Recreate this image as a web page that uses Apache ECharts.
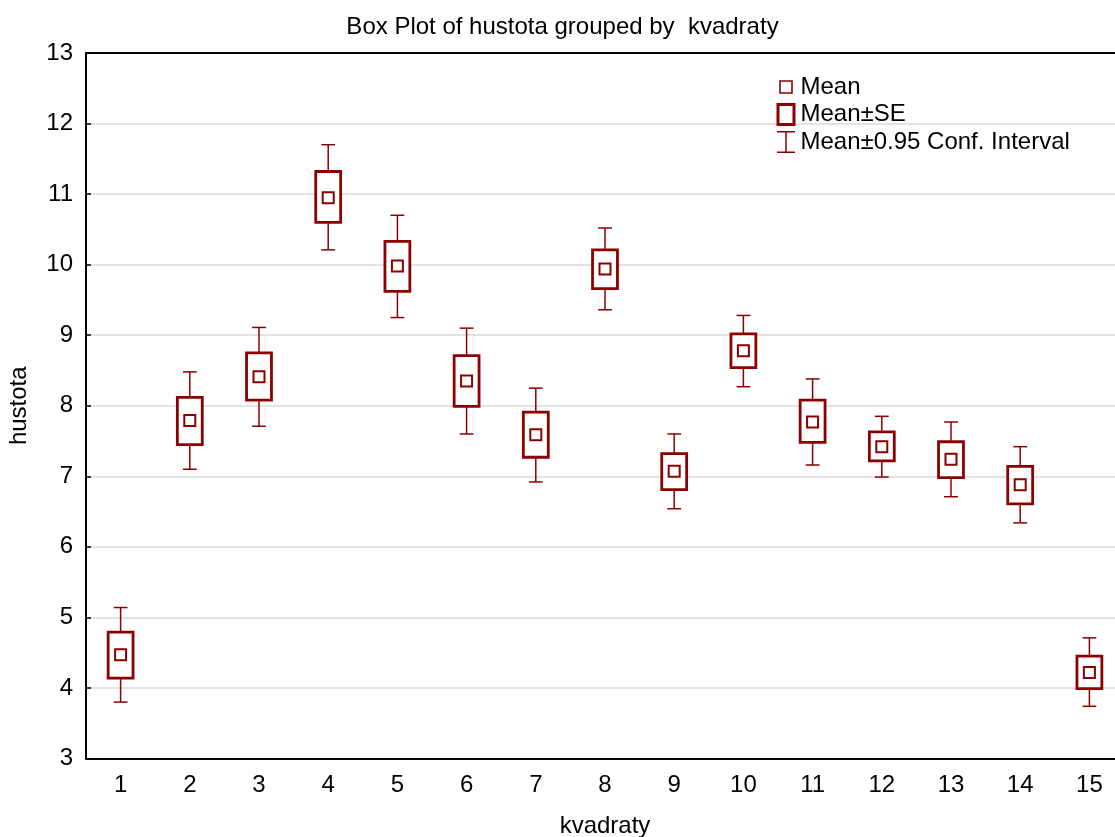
<!DOCTYPE html>
<html>
<head>
<meta charset="utf-8">
<script src="https://cdn.jsdelivr.net/npm/echarts@6/dist/echarts.min.js"></script>
<style>
  html, body { margin: 0; padding: 0; background: #fff; }
  #chart { width: 1115px; height: 837px; }
</style>
</head>
<body>
<div id="chart"></div>
<script>
// ---- data ----
const categories = ['1','2','3','4','5','6','7','8','9','10','11','12','13','14','15'];
const mean   = [4.47, 7.79, 8.41, 10.95, 9.98, 8.35, 7.59, 9.94, 7.07, 8.78, 7.77, 7.42, 7.24, 6.88, 4.22];
const seLow  = [4.14, 7.45, 8.08, 10.60, 9.62, 7.99, 7.27, 9.66, 6.81, 8.54, 7.48, 7.22, 6.98, 6.61, 3.99];
const seHigh = [4.79, 8.12, 8.75, 11.32, 10.33, 8.71, 7.91, 10.21, 7.32, 9.02, 8.08, 7.63, 7.49, 7.14, 4.45];
const ciLow  = [3.80, 7.10, 7.71, 10.21, 9.25, 7.60, 6.92, 9.36, 6.54, 8.27, 7.16, 6.99, 6.71, 6.34, 3.74];
const ciHigh = [5.14, 8.48, 9.11, 11.70, 10.70, 9.10, 8.25, 10.52, 7.60, 9.28, 8.38, 7.85, 7.77, 7.42, 4.71];
const yTicks = { min: 3, max: 13, interval: 1 };
const titleText = 'Box Plot of hustota grouped by  kvadraty';
const xName = 'kvadraty';
const yName = 'hustota';
const legendNames = ['Mean', 'Mean±SE', 'Mean±0.95 Conf. Interval'];

// ---- styles ----
const RED = '#8b0000';
const FONT = "'Liberation Sans', Arial, sans-serif";

const chart = echarts.init(document.getElementById('chart'), null, { renderer: 'canvas' });

function renderCI(params, api) {
  const i = api.value(0);
  const lo = api.coord([i, api.value(1)]);
  const hi = api.coord([i, api.value(2)]);
  const band = api.size([1, 0])[0];
  const cap = band * 0.2;
  const st = { stroke: RED, lineWidth: 1.5 };
  return {
    type: 'group',
    children: [
      { type: 'line', shape: { x1: lo[0], y1: lo[1], x2: hi[0], y2: hi[1] }, style: st },
      { type: 'line', shape: { x1: lo[0] - cap / 2, y1: lo[1], x2: lo[0] + cap / 2, y2: lo[1] }, style: st },
      { type: 'line', shape: { x1: hi[0] - cap / 2, y1: hi[1], x2: hi[0] + cap / 2, y2: hi[1] }, style: st }
    ]
  };
}

function renderSE(params, api) {
  const i = api.value(0);
  const lo = api.coord([i, api.value(1)]);
  const hi = api.coord([i, api.value(2)]);
  const band = api.size([1, 0])[0];
  const w = band * 0.36;
  return {
    type: 'rect',
    shape: { x: lo[0] - w / 2, y: hi[1], width: w, height: lo[1] - hi[1] },
    style: { fill: '#fff', stroke: RED, lineWidth: 2.8 }
  };
}

const option = {
  animation: false,
  backgroundColor: '#fff',
  textStyle: { fontFamily: FONT },
  title: {
    text: titleText,
    left: 562.5,
    top: 15,
    padding: 0,
    textAlign: 'center',
    textStyle: { fontFamily: FONT, fontSize: 24, fontWeight: 'normal', color: '#000' }
  },
  legend: {
    orient: 'vertical',
    left: 775,
    top: 75,
    padding: 0,
    itemGap: 3,
    itemWidth: 19,
    itemHeight: 22,
    selectedMode: false,
    textStyle: { fontFamily: FONT, fontSize: 24, color: '#000' },
    data: [
      { name: legendNames[0],
        icon: 'path://M0 0 M19 22 M3.5 5 L15.5 5 L15.5 17 L3.5 17 Z',
        itemStyle: { color: '#fff', borderColor: RED, borderWidth: 1.6 } },
      { name: legendNames[1],
        icon: 'path://M0 0 M19 22 M1.5 1 L17.5 1 L17.5 21 L1.5 21 Z',
        itemStyle: { color: '#fff', borderColor: RED, borderWidth: 3 } },
      { name: legendNames[2],
        icon: 'path://M0 0 M19 22 M0.5 0.75 L18.5 0.75 M9.5 0.75 L9.5 21.25 M0.5 21.25 L18.5 21.25',
        itemStyle: { color: '#fff', borderColor: RED, borderWidth: 1.5 } }
    ]
  },
  grid: { left: 86, right: -9, top: 53, bottom: 78.5, containLabel: false, outerBoundsMode: 'none' },
  xAxis: [
    {
      type: 'category',
      data: categories,
      position: 'bottom',
      z: 3,
      name: xName,
      nameLocation: 'middle',
      nameGap: 56,
      nameTextStyle: { fontFamily: FONT, fontSize: 24, color: '#000' },
      axisLine: { lineStyle: { color: '#000', width: 2 } },
      axisTick: { inside: true, alignWithLabel: true, length: 5, lineStyle: { color: '#000', width: 1.5 } },
      axisLabel: { margin: 15, fontFamily: FONT, fontSize: 24, color: '#000' },
      splitLine: { show: false }
    },
    {
      type: 'category',
      data: categories,
      position: 'top',
      z: 3,
      axisLine: { lineStyle: { color: '#000', width: 2 } },
      axisTick: { inside: true, alignWithLabel: true, length: 5, lineStyle: { color: '#000', width: 1.5 } },
      axisLabel: { show: false },
      splitLine: { show: false }
    }
  ],
  yAxis: {
    type: 'value',
    min: yTicks.min,
    max: yTicks.max,
    interval: yTicks.interval,
    z: 3,
    name: yName,
    nameLocation: 'middle',
    nameGap: 55,
    nameTextStyle: { fontFamily: FONT, fontSize: 24, color: '#000' },
    axisLine: { show: true, lineStyle: { color: '#000', width: 2 } },
    axisTick: { show: true, inside: true, length: 5, lineStyle: { color: '#000', width: 1.5 } },
    axisLabel: { margin: 13, fontFamily: FONT, fontSize: 24, color: '#000' },
    splitLine: { show: true, showMinLine: false, showMaxLine: false, lineStyle: { color: '#dadada', width: 1.5 } }
  },
  series: [
    {
      name: legendNames[2],
      type: 'custom',
      renderItem: renderCI,
      encode: { x: 0, y: [1, 2] },
      data: categories.map((c, i) => [i, ciLow[i], ciHigh[i]]),
      z: 4
    },
    {
      name: legendNames[1],
      type: 'custom',
      renderItem: renderSE,
      encode: { x: 0, y: [1, 2] },
      data: categories.map((c, i) => [i, seLow[i], seHigh[i]]),
      z: 5
    },
    {
      name: legendNames[0],
      type: 'scatter',
      symbol: 'rect',
      symbolSize: 11,
      itemStyle: { color: '#fff', borderColor: RED, borderWidth: 2, opacity: 1 },
      data: mean,
      z: 6
    }
  ]
};

chart.setOption(option);
</script>
</body>
</html>
